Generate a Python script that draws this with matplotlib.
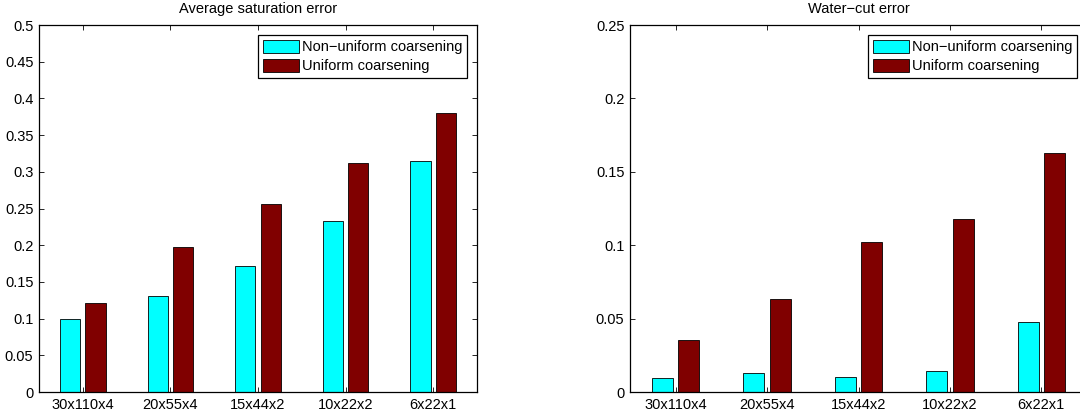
import numpy as np
import matplotlib
matplotlib.use("Agg")
import matplotlib.pyplot as plt

plt.rcParams["font.family"] = ["Liberation Sans", "DejaVu Sans"]
plt.rcParams["font.size"] = 10

grids = ["30x110x4", "20x55x4", "15x44x2", "10x22x2", "6x22x1"]

# Average saturation error
sat_nonuniform = [0.0995, 0.131, 0.172, 0.2325, 0.315]
sat_uniform = [0.121, 0.1975, 0.256, 0.3125, 0.38]

# Water-cut error
wc_nonuniform = [0.0097, 0.0127, 0.0104, 0.0145, 0.048]
wc_uniform = [0.0352, 0.0631, 0.102, 0.1178, 0.163]

cyan = (0.0, 1.0, 1.0)
dark_red = (0.5, 0.0, 0.0)


def bar_panel(ax, vals1, vals2, title, ymax, step):
    x = np.arange(1, len(grids) + 1)
    w = 0.23
    ax.bar(x - 0.145, vals1, w, color=cyan, edgecolor="black", linewidth=0.6,
           label="Non\u2212uniform coarsening")
    ax.bar(x + 0.145, vals2, w, color=dark_red, edgecolor="black", linewidth=0.6,
           label="Uniform coarsening")
    ax.set_xlim(0.5, 5.5)
    ax.set_ylim(0, ymax)
    ax.set_xticks(x)
    ax.set_xticklabels(grids)
    yt = np.round(np.arange(0, ymax + step / 2, step), 3)
    ax.set_yticks(yt)
    ax.set_yticklabels(["%g" % v for v in yt])
    ax.tick_params(direction="in", length=3.5, width=0.6, top=True, right=True,
                   labelsize=10.5, pad=4)
    for s in ax.spines.values():
        s.set_linewidth(0.9)
    ax.set_title(title, fontsize=10.5, pad=9)
    leg = ax.legend(loc="upper right", fancybox=False, framealpha=1,
                    edgecolor="black", fontsize=10.5, handlelength=2.5,
                    handleheight=1.05, borderaxespad=0.7, borderpad=0.3,
                    labelspacing=0.3, handletextpad=0.2)
    leg.get_frame().set_linewidth(0.9)


fig = plt.figure(figsize=(10.8, 4.17), dpi=100)
ax1 = fig.add_axes([39 / 1080, 25 / 417, 438 / 1080, 367 / 417])
ax2 = fig.add_axes([630 / 1080, 25 / 417, 457 / 1080, 367 / 417])

bar_panel(ax1, sat_nonuniform, sat_uniform, "Average saturation error", 0.5, 0.05)
bar_panel(ax2, wc_nonuniform, wc_uniform, "Water\u2212cut error", 0.25, 0.05)

fig.savefig("out.png", dpi=100)
